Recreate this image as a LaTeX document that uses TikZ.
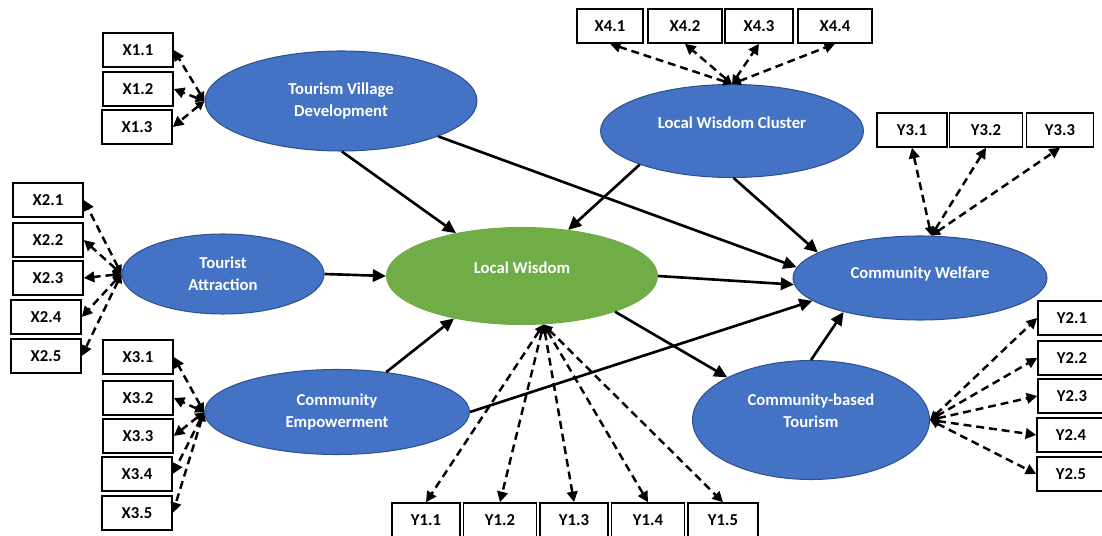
\documentclass[tikz,border=0pt]{standalone}
\usepackage{fontspec}
\setmainfont{Carlito}
\usetikzlibrary{shapes.geometric,arrows.meta}

\definecolor{latblue}{HTML}{4472C4}
\definecolor{latedge}{HTML}{2F528F}
\definecolor{latgreen}{HTML}{70AD47}

\begin{document}
\begin{tikzpicture}[x=0.02cm,y=-0.02cm,>={Triangle[length=7.5pt,width=7pt]},
  latent/.style={ellipse,fill=latblue,draw=latedge,line width=0.6pt,text=white,
    font=\bfseries\fontsize{9.5}{12.5}\selectfont,align=center,inner sep=0pt},
  greenlatent/.style={latent,fill=latgreen,draw=latgreen},
  indicator/.style={rectangle,draw,fill=white,line width=0.9pt,minimum width=1.4cm,
    minimum height=0.68cm,inner sep=0pt,font=\bfseries\fontsize{9.5}{11}\selectfont},
  effect/.style={->,line width=1.5pt},
  loading/.style={{Triangle[length=5pt,width=5pt]}-{Triangle[length=6pt,width=6pt]},
    line width=1.4pt,dash pattern=on 4.5pt off 2.8pt}]
  \useasboundingbox (0,0) rectangle (1102,536);

  \node[latent,minimum width=5.44cm,minimum height=2cm] (tvd) at (341,101) {Tourism Village\\Development};
  \node[latent,minimum width=5.26cm,minimum height=1.86cm] (lwc) at (732,131) {Local Wisdom Cluster\\[-3.5pt]};
  \node[latent,minimum width=4.04cm,minimum height=1.6cm] (ta) at (223,274) {Tourist\\Attraction};
  \node[greenlatent,minimum width=5.42cm,minimum height=1.94cm] (lw) at (522,276) {Local Wisdom\\[-3.5pt]};
  \node[latent,minimum width=5.08cm,minimum height=1.68cm] (cw) at (920,278) {Community Welfare\\[-6.9pt]};
  \node[latent,minimum width=5.3cm,minimum height=1.7cm] (ce) at (337,412) {Community\\Empowerment};
  \node[latent,minimum width=4.74cm,minimum height=2.38cm] (cbt) at (811,420) {Community-based\\Tourism\\[-2.3pt]};

  \node[indicator] (x11) at (138,50) {X1.1};
  \node[indicator] (x12) at (138,89) {X1.2};
  \node[indicator] (x13) at (137,127) {X1.3};

  \node[indicator] (x21) at (48,200) {X2.1};
  \node[indicator] (x22) at (48,240) {X2.2};
  \node[indicator] (x23) at (48,278) {X2.3};
  \node[indicator] (x24) at (46,317) {X2.4};
  \node[indicator] (x25) at (46,356) {X2.5};

  \node[indicator] (x31) at (138,357) {X3.1};
  \node[indicator] (x32) at (138,398) {X3.2};
  \node[indicator] (x33) at (138,436) {X3.3};
  \node[indicator] (x34) at (137,474) {X3.4};
  \node[indicator] (x35) at (137,513) {X3.5};

  \node[indicator,minimum width=1.32cm] (x41) at (610,26) {X4.1};
  \node[indicator,minimum width=1.48cm] (x42) at (685,26) {X4.2};
  \node[indicator,minimum width=1.36cm] (x43) at (759,26) {X4.3};
  \node[indicator,minimum width=1.48cm] (x44) at (835,26) {X4.4};

  \node[indicator] (y31) at (912,130) {Y3.1};
  \node[indicator,minimum width=1.46cm] (y32) at (986,130) {Y3.2};
  \node[indicator,minimum width=1.34cm] (y33) at (1060,130) {Y3.3};

  \node[indicator,minimum width=1.36cm] (y21) at (1072,318) {Y2.1};
  \node[indicator,minimum width=1.36cm] (y22) at (1072,358) {Y2.2};
  \node[indicator,minimum width=1.36cm] (y23) at (1072,396) {Y2.3};
  \node[indicator,minimum width=1.36cm] (y24) at (1071,435) {Y2.4};
  \node[indicator,minimum width=1.36cm] (y25) at (1071,474) {Y2.5};

  \node[indicator,minimum width=1.36cm] (y11) at (426,520) {Y1.1};
  \node[indicator,minimum width=1.46cm] (y12) at (500,520) {Y1.2};
  \node[indicator,minimum width=1.36cm] (y13) at (574,520) {Y1.3};
  \node[indicator,minimum width=1.46cm] (y14) at (648,520) {Y1.4};
  \node[indicator] (y15) at (723,520) {Y1.5};

  \draw[effect] (tvd.-89) -- (lw.147);
  \draw[effect] (tvd.-20) -- (cw.175);
  \draw[effect] (lwc.-160) -- (lw.45);
  \draw[effect] (lwc.-88) -- (cw.166);
  \draw[effect] (ta.0) -- (lw.180);
  \draw[effect] (ce.39) -- (lw.-148);
  \draw[effect] (ce.0) -- (cw.-168);
  \draw[effect] (lw.0) -- (cw.-177);
  \draw[effect] (lw.-21) -- (cbt.153);
  \draw[effect] (cbt.90) -- (cw.-156);

  \draw[loading] (tvd.180) -- (x11.east);
  \draw[loading] (tvd.180) -- (x12.east);
  \draw[loading] (tvd.180) -- (x13.east);
  \draw[loading] (ta.180) -- (x21.east);
  \draw[loading] (ta.180) -- (x22.east);
  \draw[loading] (ta.180) -- (x23.east);
  \draw[loading] (ta.180) -- (x24.east);
  \draw[loading] (ta.180) -- (x25.east);
  \draw[loading] (ce.180) -- (x31.east);
  \draw[loading] (ce.180) -- (x32.east);
  \draw[loading] (ce.180) -- (x33.east);
  \draw[loading] (ce.180) -- (x34.east);
  \draw[loading] (ce.180) -- (x35.east);
  \draw[loading] (lwc.90) -- (x41.south);
  \draw[loading] (lwc.90) -- (x42.south);
  \draw[loading] (lwc.90) -- (x43.south);
  \draw[loading] (lwc.90) -- (x44.south);
  \draw[loading] (cw.75) -- (y31.south);
  \draw[loading] (cw.75) -- (y32.south);
  \draw[loading] (cw.75) -- (y33.south);
  \draw[loading] (cbt.0) -- (y21.west);
  \draw[loading] (cbt.0) -- (y22.west);
  \draw[loading] (cbt.0) -- (y23.west);
  \draw[loading] (cbt.0) -- (y24.west);
  \draw[loading] (cbt.0) -- (y25.west);
  \draw[loading] (lw.-66) -- (y11.north);
  \draw[loading] (lw.-66) -- (y12.north);
  \draw[loading] (lw.-66) -- (y13.north);
  \draw[loading] (lw.-66) -- (y14.north);
  \draw[loading] (lw.-66) -- (y15.north);
\end{tikzpicture}
\end{document}
